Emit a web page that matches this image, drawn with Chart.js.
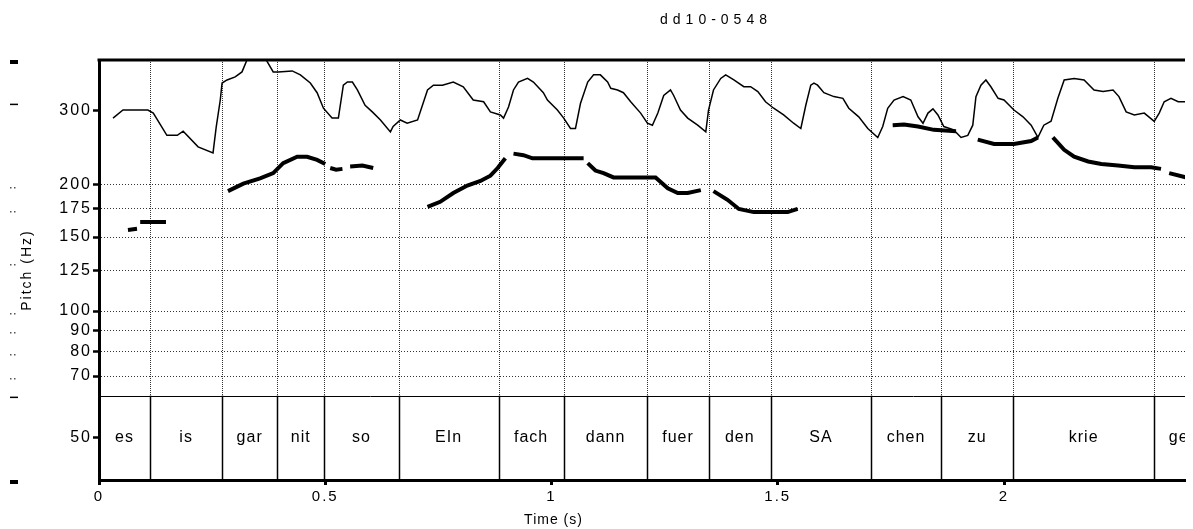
<!DOCTYPE html>
<html>
<head>
<meta charset="utf-8">
<script src="https://cdn.jsdelivr.net/npm/chart.js@4/dist/chart.umd.min.js"></script>
<style>
  html, body { margin: 0; padding: 0; background: #fff; }
</style>
</head>
<body>
<canvas id="pitchChart" width="1193" height="529"></canvas>
<script>
// thin line: raw pitch contour (s, Hz)
const curveTimes = [
  0.031, 0.053, 0.108, 0.120, 0.150, 0.173, 0.186, 0.219, 0.252, 0.259,
  0.268, 0.272, 0.283, 0.301, 0.316, 0.327, 0.345, 0.360, 0.372, 0.385,
  0.396, 0.427, 0.445, 0.467, 0.482, 0.496, 0.515, 0.529, 0.540, 0.549,
  0.560, 0.571, 0.588, 0.604, 0.622, 0.644, 0.650, 0.666, 0.681, 0.704,
  0.726, 0.739, 0.759, 0.783, 0.805, 0.827, 0.850, 0.865, 0.887, 0.894,
  0.905, 0.916, 0.927, 0.947, 0.960, 0.982, 0.991, 1.013, 1.027, 1.042,
  1.053, 1.064, 1.080, 1.093, 1.108, 1.124, 1.131, 1.146, 1.159, 1.175,
  1.197, 1.212, 1.223, 1.235, 1.248, 1.263, 1.270, 1.285, 1.301, 1.323,
  1.341, 1.347, 1.358, 1.374, 1.385, 1.403, 1.425, 1.440, 1.456, 1.473,
  1.491, 1.513, 1.535, 1.551, 1.562, 1.573, 1.580, 1.588, 1.602, 1.624,
  1.644, 1.657, 1.679, 1.699, 1.721, 1.732, 1.743, 1.757, 1.777, 1.794,
  1.810, 1.821, 1.832, 1.843, 1.854, 1.867, 1.889, 1.905, 1.920, 1.931,
  1.938, 1.949, 1.960, 1.971, 1.987, 2.000, 2.022, 2.042, 2.060, 2.075,
  2.088, 2.104, 2.119, 2.133, 2.155, 2.177, 2.199, 2.219, 2.241, 2.254,
  2.270, 2.288, 2.310, 2.332, 2.343, 2.354, 2.369, 2.385, 2.403
];
const curveHz = [
  288, 301, 301, 296, 262, 262, 268, 246, 238, 274,
  318, 349, 355, 361, 371, 396, 425, 415, 392, 371,
  371, 373, 365, 349, 331, 304, 288, 288, 345, 351,
  351, 336, 309, 298, 285, 267, 275, 285, 280, 285,
  336, 345, 345, 351, 342, 318, 315, 298, 293, 288,
  306, 336, 351, 358, 351, 331, 318, 301, 288, 272,
  272, 312, 351, 365, 365, 351, 339, 336, 331, 315,
  296, 280, 277, 296, 326, 336, 326, 301, 288, 277,
  267, 301, 336, 358, 365, 355, 342, 342, 333, 315,
  304, 293, 280, 272, 309, 345, 349, 345, 331, 324,
  321, 304, 290, 272, 259, 275, 304, 318, 324, 318,
  290, 280, 296, 303, 293, 275, 270, 259, 262, 277,
  324, 345, 355, 342, 321, 318, 301, 290, 277, 259,
  277, 283, 321, 355, 358, 355, 336, 333, 336, 324,
  298, 293, 296, 283, 296, 315, 321, 315, 315
];

// thick line: stylised pitch track, null = break
const trackTimes = [
  0.064, 0.084, 0.084,
  0.091, 0.148, 0.148,
  0.285, 0.319, 0.356, 0.385, 0.407, 0.438, 0.460, 0.482, 0.500, 0.500,
  0.511, 0.524, 0.538, 0.538,
  0.555, 0.582, 0.606, 0.606,
  0.726, 0.754, 0.783, 0.814, 0.843, 0.865, 0.881, 0.898, 0.898,
  0.916, 0.938, 0.958, 0.991, 1.027, 1.071, 1.071,
  1.080, 1.097, 1.115, 1.137, 1.175, 1.230, 1.257, 1.279, 1.301, 1.330, 1.330,
  1.358, 1.389, 1.414, 1.447, 1.478, 1.522, 1.544, 1.544,
  1.754, 1.779, 1.810, 1.845, 1.894, 1.894,
  1.942, 1.978, 2.022, 2.060, 2.075, 2.075,
  2.108, 2.133, 2.155, 2.186, 2.215, 2.252, 2.288, 2.325, 2.347, 2.347,
  2.365, 2.403
];
const trackHz = [
  156, 157, null,
  163, 163, null,
  193, 201, 207, 213, 225, 233, 233, 229, 224, null,
  219, 217, 218, null,
  221, 222, 219, null,
  177, 182, 191, 199, 204, 210, 219, 231, null,
  237, 235, 231, 231, 231, 231, null,
  225, 216, 213, 208, 208, 208, 196, 191, 191, 194, null,
  193, 184, 175, 172, 172, 172, 175, null,
  277, 278, 275, 270, 268, null,
  256, 250, 250, 254, 259, null,
  259, 242, 233, 227, 224, 222, 220, 220, 218, null,
  213, 208
];

// word tier
const words = ["es", "is", "gar", "nit", "so", "EIn", "fach", "dann", "fuer", "den", "SA", "chen", "zu", "krie", "ge"];
const wordBounds = [0, 0.113, 0.272, 0.394, 0.498, 0.662, 0.883, 1.027, 1.212, 1.347, 1.485, 1.706, 1.861, 2.020, 2.332, 2.44];

const yTickValues = [50, 70, 80, 90, 100, 125, 150, 175, 200, 300];
const xTickValues = [0, 0.5, 1, 1.5, 2];
const yMin = 39.6;
const yMax = 396;
const tierTopHz = 62.9;

// stray marks of a clipped neighbouring axis at the far left
const strayDotHz = [200, 175, 131, 100, 90, 80, 70];

const FONT = "'Liberation Sans', Arial, sans-serif";

const tierPlugin = {
  id: "tier",
  beforeDraw(chart) {
    chart.ctx.letterSpacing = "2px";
  },
  beforeDatasetsDraw(chart) {
    const { ctx, chartArea, scales } = chart;
    const xs = scales.x, ys = scales.y;
    const tierY = ys.getPixelForValue(tierTopHz);

    ctx.save();
    ctx.strokeStyle = "#000";

    // dotted boundary lines above, solid in the tier
    for (let i = 1; i < wordBounds.length - 1; i++) {
      const x = Math.round(xs.getPixelForValue(wordBounds[i])) + 0.5;
      if (x > chartArea.right) continue;
      ctx.lineWidth = 1;
      ctx.setLineDash([1, 1]);
      ctx.strokeStyle = "#333";
      ctx.beginPath();
      ctx.moveTo(x, chartArea.top);
      ctx.lineTo(x, tierY);
      ctx.stroke();
      ctx.setLineDash([]);
      ctx.strokeStyle = "#000";
      ctx.lineWidth = 1.5;
      ctx.beginPath();
      ctx.moveTo(x, tierY);
      ctx.lineTo(x, chartArea.bottom);
      ctx.stroke();
    }

    ctx.lineWidth = 1;
    ctx.beginPath();
    ctx.moveTo(chartArea.left, Math.round(tierY) + 0.5);
    ctx.lineTo(chartArea.right, Math.round(tierY) + 0.5);
    ctx.stroke();

    // stray marks at left edge
    ctx.fillStyle = "#000";
    ctx.fillRect(10, chartArea.top, 8, 4);
    ctx.fillRect(10, chartArea.bottom, 8, 4);
    ctx.fillRect(10, ys.getPixelForValue(300) - 7, 8, 1.5);
    ctx.fillRect(10, tierY + 1, 8, 1.5);
    ctx.fillStyle = "#555";
    strayDotHz.forEach(v => {
      const y = Math.round(ys.getPixelForValue(v)) + 2;
      ctx.fillRect(10, y, 1.5, 1.5);
      ctx.fillRect(14, y, 1.5, 1.5);
    });

    // words
    ctx.beginPath();
    ctx.rect(chartArea.left, chartArea.top, chartArea.right - chartArea.left, chartArea.bottom - chartArea.top);
    ctx.clip();
    ctx.fillStyle = "#000";
    ctx.font = "16px " + FONT;
    ctx.letterSpacing = "1px";
    ctx.textAlign = "center";
    ctx.textBaseline = "middle";
    const midY = (tierY + chartArea.bottom) / 2;
    words.forEach((w, i) => {
      const mid = (wordBounds[i] + wordBounds[i + 1]) / 2;
      ctx.fillText(w, xs.getPixelForValue(mid), midY);
    });
    ctx.restore();
  },
  afterDraw(chart) {
    const { ctx, chartArea, scales } = chart;
    ctx.save();
    // top frame
    ctx.strokeStyle = "#000";
    ctx.lineWidth = 3;
    ctx.beginPath();
    ctx.moveTo(chartArea.left - 1.5, chartArea.top);
    ctx.lineTo(chartArea.right, chartArea.top);
    ctx.stroke();

    ctx.fillStyle = "#000";
    ctx.textAlign = "center";
    ctx.textBaseline = "middle";
    ctx.font = "14px " + FONT;
    ctx.letterSpacing = "5px";
    ctx.fillText("dd10-0548", 716, 20);

    ctx.letterSpacing = "1px";
    ctx.fillText("Time (s)", scales.x.getPixelForValue(1) + 2, 520);
    ctx.restore();
  }
};

new Chart(document.getElementById("pitchChart"), {
  type: "line",
  data: {
    datasets: [
      {
        label: "contour",
        data: curveTimes.map((t, i) => ({ x: t, y: curveHz[i] })),
        borderColor: "#000",
        borderWidth: 1.5,
        pointRadius: 0,
        tension: 0,
        fill: false
      },
      {
        label: "track",
        data: trackTimes.map((t, i) => ({ x: t, y: trackHz[i] })),
        borderColor: "#000",
        borderWidth: 4,
        pointRadius: 0,
        tension: 0,
        spanGaps: false,
        fill: false
      }
    ]
  },
  options: {
    responsive: false,
    animation: false,
    layout: { padding: { top: 60, right: 8, left: 0, bottom: 0 } },
    plugins: {
      legend: { display: false },
      tooltip: { enabled: false }
    },
    scales: {
      x: {
        type: "linear",
        min: 0,
        max: 2.4,
        afterBuildTicks: s => { s.ticks = xTickValues.map(v => ({ value: v })); },
        afterFit: s => { s.height = 49; },
        ticks: {
          color: "#000",
          font: { family: FONT, size: 15 },
          padding: 3,
          maxRotation: 0,
          autoSkip: false,
          callback: v => String(v)
        },
        grid: {
          drawOnChartArea: false,
          drawTicks: true,
          tickLength: 5,
          tickWidth: 3,
          tickColor: "#000"
        },
        border: { display: true, color: "#000", width: 3 }
      },
      y: {
        type: "logarithmic",
        min: yMin,
        max: yMax,
        afterBuildTicks: s => { s.ticks = yTickValues.map(v => ({ value: v })); },
        afterFit: s => { s.width = 99; },
        ticks: {
          color: "#000",
          font: { family: FONT, size: 16 },
          padding: 1,
          autoSkip: false,
          callback: v => String(v)
        },
        grid: {
          color: c => (c.tick && (c.tick.value === 50 || c.tick.value === 300)) ? "rgba(0,0,0,0)" : "#333",
          lineWidth: 1,
          drawTicks: true,
          tickLength: 6,
          tickWidth: 2.5,
          tickColor: "#000"
        },
        border: { display: true, color: "#000", width: 3, dash: [1, 2] },
        title: {
          display: true,
          text: "Pitch (Hz)",
          color: "#000",
          font: { family: FONT, size: 14 },
          padding: { top: 19, bottom: 0 }
        }
      }
    }
  },
  plugins: [tierPlugin]
});
</script>
</body>
</html>
